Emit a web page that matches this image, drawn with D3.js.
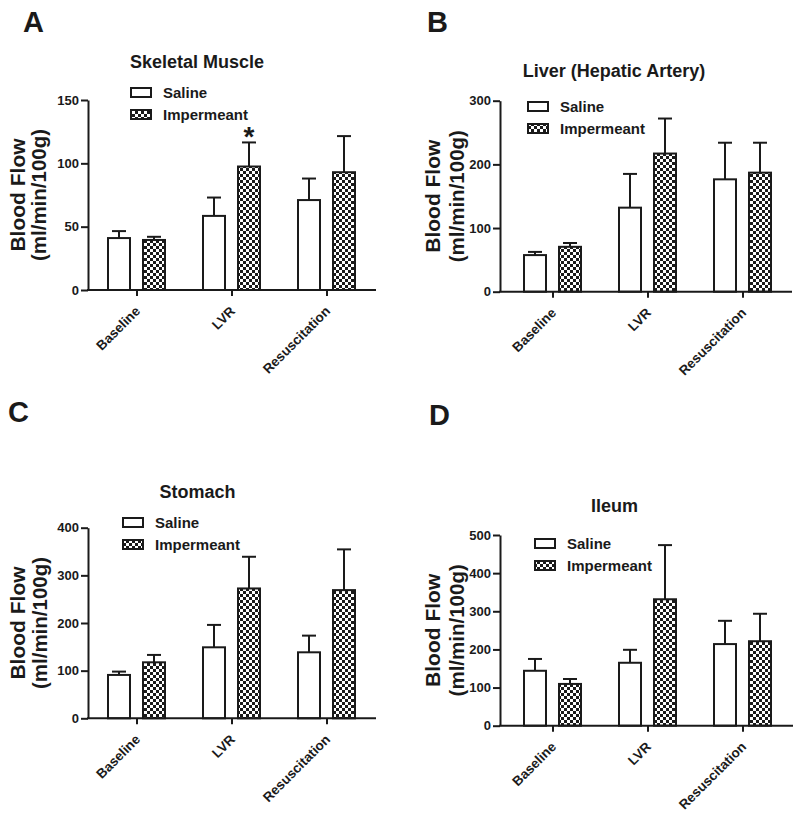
<!DOCTYPE html>
<html><head><meta charset="utf-8">
<script src="https://cdn.jsdelivr.net/npm/d3@7"></script>
<style>
body{margin:0;background:#fff}
text{font-family:"Liberation Sans",Arial,Helvetica,sans-serif;font-weight:bold;fill:#1a1a1a}
</style>
</head><body>
<svg id="chart" width="800" height="818"></svg>
<script>
// ---------- data ----------
const categories = ["Baseline", "LVR", "Resuscitation"];
const seriesNames = ["Saline", "Impermeant"];
const panelLetters = ["A", "B", "C", "D"];
const panelTitles = ["Skeletal Muscle", "Liver (Hepatic Artery)", "Stomach", "Ileum"];
const yLabelLine1 = "Blood Flow";
const yLabelLine2 = "(ml/min/100g)";

const muscleTicks = [0, 50, 100, 150];
const liverTicks = [0, 100, 200, 300];
const stomachTicks = [0, 100, 200, 300, 400];
const ileumTicks = [0, 100, 200, 300, 400, 500];

const muscleSaline = [41, 58.5, 71];
const muscleSalineSEM = [5.5, 14.5, 17];
const muscleImpermeant = [39.5, 97.5, 93];
const muscleImpermeantSEM = [2.5, 19, 28.5];
const muscleSignificant = [false, true, false];

const liverSaline = [57.5, 132, 176.5];
const liverSalineSEM = [5, 53, 57.5];
const liverImpermeant = [70.5, 217, 187];
const liverImpermeantSEM = [6, 55, 47];
const liverSignificant = [false, false, false];

const stomachSaline = [91, 149, 138.5];
const stomachSalineSEM = [7, 47, 35];
const stomachImpermeant = [117.5, 272.5, 269];
const stomachImpermeantSEM = [15.5, 66.5, 85.5];
const stomachSignificant = [false, false, false];

const ileumSaline = [144, 165, 214];
const ileumSalineSEM = [31, 34, 61];
const ileumImpermeant = [109.5, 331.5, 221.5];
const ileumImpermeantSEM = [13, 142, 72];
const ileumSignificant = [false, false, false];

// ---------- layout ----------
const panels = [
  {letter: panelLetters[0], title: panelTitles[0], ticks: muscleTicks,
   saline: muscleSaline, salineSEM: muscleSalineSEM, imp: muscleImpermeant, impSEM: muscleImpermeantSEM, sig: muscleSignificant,
   ax: 88, y0: 290, yTop: 100, xEnd: 376, c0: 137,
   letterPos: [23, 32], titlePos: [197, 68], legendPos: [130, 87], yl1: 25, yl2: 46},
  {letter: panelLetters[1], title: panelTitles[1], ticks: liverTicks,
   saline: liverSaline, salineSEM: liverSalineSEM, imp: liverImpermeant, impSEM: liverImpermeantSEM, sig: liverSignificant,
   ax: 500, y0: 291.7, yTop: 100.7, xEnd: 792, c0: 553,
   letterPos: [427, 32], titlePos: [614, 77], legendPos: [527, 101], yl1: 440, yl2: 464},
  {letter: panelLetters[2], title: panelTitles[2], ticks: stomachTicks,
   saline: stomachSaline, salineSEM: stomachSalineSEM, imp: stomachImpermeant, impSEM: stomachImpermeantSEM, sig: stomachSignificant,
   ax: 88, y0: 718.3, yTop: 527.7, xEnd: 376, c0: 137,
   letterPos: [8, 422], titlePos: [197.5, 498], legendPos: [122, 517], yl1: 25, yl2: 47},
  {letter: panelLetters[3], title: panelTitles[3], ticks: ileumTicks,
   saline: ileumSaline, salineSEM: ileumSalineSEM, imp: ileumImpermeant, impSEM: ileumImpermeantSEM, sig: ileumSignificant,
   ax: 500, y0: 725.7, yTop: 535, xEnd: 793, c0: 553,
   letterPos: [429, 425], titlePos: [614.5, 512], legendPos: [534, 538], yl1: 440, yl2: 464}
];

const ink = "#1a1a1a";
const svg = d3.select("#chart");

// checker pattern
const defs = svg.append("defs");
const pat = defs.append("pattern").attr("id", "checker")
  .attr("patternUnits", "userSpaceOnUse").attr("width", 6).attr("height", 6);
pat.append("rect").attr("width", 6).attr("height", 6).attr("fill", "#fff");
pat.append("rect").attr("width", 3).attr("height", 3).attr("fill", ink);
pat.append("rect").attr("x", 3).attr("y", 3).attr("width", 3).attr("height", 3).attr("fill", ink);

const fills = {Saline: "#fff", Impermeant: "url(#checker)"};

panels.forEach(p => {
  const g = svg.append("g");
  const ymax = p.ticks[p.ticks.length - 1];
  const y = d3.scaleLinear().domain([0, ymax]).range([p.y0, p.yTop]);
  const x = d3.scaleBand().domain(categories)
    .range([p.c0 - 47.5, p.c0 + 47.5 + 2 * 95]).padding(0);
  const inner = d3.scaleBand().domain(seriesNames).range([-30, 29]).paddingInner(11 / 35);

  // letter
  g.append("text").attr("x", p.letterPos[0]).attr("y", p.letterPos[1])
    .attr("font-size", 29).text(p.letter);
  // title
  g.append("text").attr("x", p.titlePos[0]).attr("y", p.titlePos[1])
    .attr("text-anchor", "middle").attr("font-size", 18).text(p.title);

  // y label
  const ymid = (p.y0 + p.yTop) / 2;
  g.append("text").attr("transform", `translate(${p.yl1},${ymid}) rotate(-90)`)
    .attr("text-anchor", "middle").attr("font-size", 21).text(yLabelLine1);
  g.append("text").attr("transform", `translate(${p.yl2},${ymid}) rotate(-90)`)
    .attr("text-anchor", "middle").attr("font-size", 20.5).text(yLabelLine2);

  // bars
  const rows = [];
  categories.forEach((c, i) => {
    rows.push({cat: c, s: "Saline", v: p.saline[i], e: p.salineSEM[i], sig: false});
    rows.push({cat: c, s: "Impermeant", v: p.imp[i], e: p.impSEM[i], sig: p.sig[i]});
  });
  const cx = d => x(d.cat) + x.bandwidth() / 2 + inner(d.s) + inner.bandwidth() / 2;

  // error bars (behind bars)
  g.selectAll(".err").data(rows).enter().append("line")
    .attr("x1", cx).attr("x2", cx)
    .attr("y1", d => y(d.v)).attr("y2", d => y(d.v + d.e))
    .attr("stroke", ink).attr("stroke-width", 2);
  g.selectAll(".cap").data(rows).enter().append("line")
    .attr("x1", d => cx(d) - 7).attr("x2", d => cx(d) + 7)
    .attr("y1", d => y(d.v + d.e)).attr("y2", d => y(d.v + d.e))
    .attr("stroke", ink).attr("stroke-width", 2);

  g.selectAll(".bar").data(rows).enter().append("rect")
    .attr("x", d => x(d.cat) + x.bandwidth() / 2 + inner(d.s) + 1)
    .attr("width", inner.bandwidth() - 2)
    .attr("y", d => y(d.v))
    .attr("height", d => p.y0 - y(d.v))
    .attr("fill", d => fills[d.s]).attr("stroke", ink).attr("stroke-width", 2);

  // significance stars
  g.selectAll(".star").data(rows.filter(d => d.sig)).enter().append("text")
    .attr("x", cx).attr("y", d => y(d.v + d.e) + 4)
    .attr("text-anchor", "middle").attr("font-size", 28).text("*");

  // y axis
  const yAxis = g.append("g").attr("transform", `translate(${p.ax},0)`)
    .call(d3.axisLeft(y).tickValues(p.ticks).tickSizeInner(7).tickSizeOuter(0).tickPadding(2));
  yAxis.selectAll("path,line").attr("stroke", ink).attr("stroke-width", 2);
  yAxis.selectAll("text").attr("font-size", 13).attr("fill", ink)
    .style("font-family", '"Liberation Sans",Arial,sans-serif').style("font-weight", "bold");

  // x axis
  const xAxis = g.append("g").attr("transform", `translate(0,${p.y0})`)
    .call(d3.axisBottom(x).tickSizeInner(6).tickSizeOuter(0));
  xAxis.select(".domain").remove();
  xAxis.selectAll("line").attr("stroke", ink).attr("stroke-width", 2);
  xAxis.selectAll("text").attr("font-size", 13.5).attr("fill", ink)
    .style("font-family", '"Liberation Sans",Arial,sans-serif').style("font-weight", "bold")
    .attr("x", 0).attr("y", 0).attr("dy", 0)
    .attr("text-anchor", "end")
    .attr("transform", "translate(4,22) rotate(-45)");
  g.append("line").attr("x1", p.ax - 1).attr("x2", p.xEnd)
    .attr("y1", p.y0).attr("y2", p.y0).attr("stroke", ink).attr("stroke-width", 2);

  // legend
  const [lx, ly] = p.legendPos;
  seriesNames.forEach((s, i) => {
    const yy = ly + i * 22;
    g.append("rect").attr("x", lx + 1).attr("y", yy + 1).attr("width", 20).attr("height", 9)
      .attr("fill", fills[s]).attr("stroke", ink).attr("stroke-width", 2);
    g.append("text").attr("x", lx + 33).attr("y", yy + 11).attr("font-size", 15).text(s);
  });
});
</script>
</body></html>
